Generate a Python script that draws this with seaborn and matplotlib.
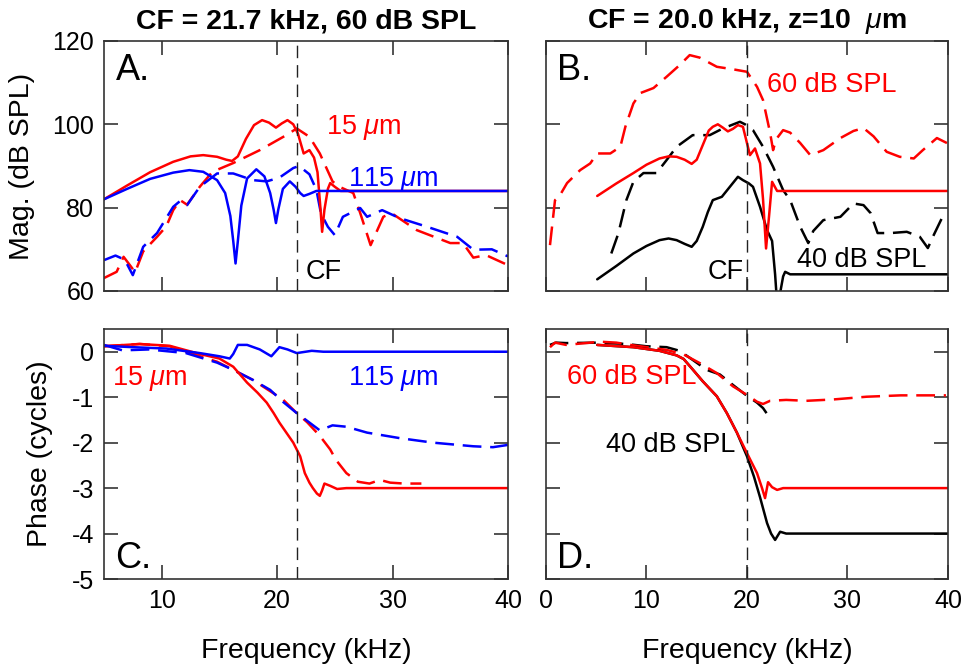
import numpy as np
import pandas as pd
import matplotlib
matplotlib.use("Agg")
import matplotlib.pyplot as plt
import seaborn as sns

# ---------------- data ----------------
# Panel A: CF = 21.7 kHz, 60 dB SPL, magnitude (dB SPL)
a_red_solid_f = [5, 7, 9, 11, 12.5, 13.6, 14.8, 15.6, 16.1, 16.6, 17.3, 18.0, 18.7, 19.3, 19.9, 20.4, 20.9, 21.4, 21.8, 22.3, 22.8, 23.2, 23.5, 23.75, 23.9, 24.1, 24.4, 24.6, 25.0, 25.5, 26.0, 40]
a_red_solid_v = [82, 85.3, 88.5, 91.0, 92.3, 92.6, 92.2, 91.5, 91.2, 92.3, 96.5, 99.8, 101.0, 100.4, 99.2, 100.2, 101.0, 100.0, 97.8, 93.0, 93.8, 92.0, 88.5, 80.0, 74.2, 79.5, 84.5, 85.9, 85.0, 84.0, 84.0, 84.0]

a_blue_solid_f = [5, 7, 9, 11, 12.4, 13.6, 14.8, 15.5, 15.95, 16.2, 16.4, 16.6, 16.9, 17.4, 18.2, 18.9, 19.4, 19.7, 19.9, 20.1, 20.5, 21.1, 21.6, 22.0, 22.3, 22.8, 23.4, 24.0, 40]
a_blue_solid_v = [82, 84.5, 86.9, 88.4, 89.0, 88.6, 86.6, 83.5, 78.0, 72.0, 66.6, 72.0, 80.5, 87.0, 89.2, 87.5, 83.5, 79.5, 76.3, 79.5, 84.5, 86.3, 85.0, 83.5, 82.8, 83.3, 84.0, 84.0, 84.0]

a_red_dash_f = [5, 6.1, 6.7, 7.3, 7.7, 8.4, 9.6, 10.4, 11.0, 11.6, 12.2, 13.3, 14.4, 16.2, 18.5, 20.8, 21.7, 22.8, 23.7, 24.8, 25.4, 26.6, 27.2, 28.1, 29.2, 29.9, 32.1, 35.0, 36.1, 37.0, 38.1, 40]
a_red_dash_v = [63.1, 64.6, 68.2, 66.0, 64.5, 69.5, 73.0, 75.5, 79.4, 81.8, 80.7, 85.0, 88.6, 90.7, 93.8, 97.4, 99.0, 97.0, 93.0, 86.3, 85.0, 83.5, 78.7, 71.0, 77.8, 78.7, 74.6, 71.5, 71.5, 68.0, 68.6, 66.2]

a_blue_dash_f = [5, 6.0, 6.8, 7.5, 8.4, 9.6, 11.0, 11.6, 12.2, 13.3, 14.8, 16.2, 17.9, 19.1, 20.2, 21.4, 21.9, 22.8, 23.4, 23.8, 24.4, 25.0, 25.7, 27.2, 27.8, 29.1, 30.6, 33.0, 35.6, 37.0, 38.6, 40]
a_blue_dash_v = [67.4, 68.5, 67.5, 63.8, 70.6, 73.9, 80.2, 81.6, 80.6, 85.0, 88.2, 88.2, 86.6, 86.3, 87.2, 89.5, 90.0, 88.0, 84.3, 78.6, 75.4, 73.4, 77.8, 79.9, 77.8, 79.4, 77.5, 75.4, 73.0, 69.9, 70.0, 68.3]

# Panel B: CF = 20.0 kHz, z = 10 um, magnitude (dB SPL)
b_red_dash_f = [0.4, 0.9, 1.3, 2.1, 3.4, 4.4, 5.1, 6.4, 7.4, 7.9, 8.7, 9.4, 10.7, 12.0, 13.3, 14.3, 15.3, 17.0, 18.6, 20.0, 21.0, 21.6, 22.3, 22.6, 22.9, 23.6, 24.3, 25.3, 26.3, 27.6, 29.3, 30.6, 31.6, 32.6, 33.9, 35.2, 36.6, 37.5, 38.9, 39.9]
b_red_dash_v = [71.0, 81.8, 82.6, 85.9, 89.0, 90.6, 93.0, 93.0, 94.6, 99.4, 105.0, 107.5, 108.7, 111.4, 114.2, 116.6, 116.0, 113.8, 113.2, 112.6, 109.0, 105.8, 98.0, 93.8, 96.4, 98.6, 98.0, 95.5, 92.6, 93.8, 96.7, 98.4, 99.1, 97.1, 93.4, 92.2, 91.8, 93.8, 96.7, 95.5]

b_red_solid_f = [5.1, 7.0, 8.7, 10.0, 11.3, 12.2, 13.0, 13.8, 14.5, 15.0, 15.6, 16.2, 16.6, 17.1, 17.6, 18.1, 18.6, 19.1, 19.6, 20.0, 20.3, 20.8, 21.3, 21.6, 21.9, 22.2, 22.5, 23.0, 23.5, 40]
b_red_solid_v = [82.8, 85.8, 88.3, 90.3, 91.8, 92.3, 92.2, 91.5, 90.5, 91.5, 95.0, 98.5, 99.4, 100.0, 99.2, 98.3, 98.9, 99.8, 99.4, 95.5, 92.6, 94.2, 90.6, 82.0, 70.2, 78.0, 86.2, 84.0, 84.0, 84.0]

b_black_solid_f = [5.1, 7.0, 8.7, 10.0, 11.3, 12.2, 13.0, 13.8, 14.5, 15.0, 15.6, 16.1, 16.6, 17.5, 18.3, 19.1, 19.6, 20.2, 20.6, 21.3, 22.0, 22.5, 22.8, 23.0, 23.3, 23.6, 23.8, 24.3, 40]
b_black_solid_v = [62.8, 66.0, 69.0, 70.8, 72.2, 72.6, 72.2, 71.3, 70.6, 72.0, 75.4, 78.9, 81.8, 82.6, 85.0, 87.4, 86.6, 85.8, 85.0, 80.2, 74.6, 72.0, 64.0, 57.0, 59.5, 63.5, 64.6, 64.0, 64.0]

b_black_dash_f = [6.5, 7.2, 8.0, 8.7, 9.7, 11.0, 12.0, 13.0, 14.6, 16.3, 17.6, 19.3, 19.8, 20.6, 21.6, 22.6, 23.6, 24.3, 25.3, 26.1, 26.6, 27.6, 29.3, 30.6, 31.6, 32.3, 33.0, 34.3, 35.9, 37.2, 38.0, 38.5, 39.4]
b_black_dash_v = [69.0, 73.8, 81.8, 86.2, 88.3, 88.3, 91.4, 94.6, 97.4, 97.4, 99.0, 100.6, 100.0, 98.6, 94.6, 89.8, 84.2, 81.8, 75.4, 71.5, 74.4, 77.0, 77.8, 81.0, 80.6, 78.7, 73.9, 73.9, 74.2, 73.0, 70.3, 73.0, 77.5]

# Panel C: phase (cycles), CF = 21.7 kHz
c_blue_solid_f = [5, 7.5, 10.4, 13.3, 15.0, 15.9, 16.2, 16.6, 17.4, 18.5, 19.5, 20.2, 20.9, 21.7, 23.0, 24.0, 40]
c_blue_solid_v = [0.13, 0.10, 0.07, -0.03, -0.10, -0.15, -0.05, 0.15, 0.15, 0.05, -0.10, 0.10, 0.05, -0.03, 0.02, 0.0, 0.0]

c_blue_dash_f = [5, 6.6, 8.9, 12.1, 14.8, 16.2, 17.9, 19.4, 20.5, 21.7, 22.6, 23.7, 24.8, 26.0, 27.8, 30.6, 33.5, 37.0, 38.7, 40]
c_blue_dash_v = [0.15, 0.03, 0.05, -0.03, -0.24, -0.40, -0.62, -0.84, -1.10, -1.35, -1.52, -1.73, -1.62, -1.65, -1.78, -1.90, -2.00, -2.08, -2.10, -2.05]

c_red_dash_f = [5, 8.1, 10.7, 12.1, 14.8, 17.9, 20.5, 21.7, 22.6, 23.7, 24.6, 25.1, 26.0, 27.0, 28.0, 28.9, 29.8, 31.0, 32.5]
c_red_dash_v = [0.12, 0.17, 0.12, 0.0, -0.22, -0.62, -1.05, -1.35, -1.55, -1.85, -2.15, -2.38, -2.67, -2.86, -2.90, -2.82, -2.88, -2.90, -2.90]

c_red_solid_f = [5, 8.1, 10.7, 13.3, 15.0, 16.2, 17.4, 18.3, 19.1, 19.7, 20.2, 20.8, 21.4, 22.0, 22.4, 22.8, 23.1, 23.45, 23.7, 23.9, 24.1, 24.6, 25.2, 26.0, 40]
c_red_solid_v = [0.12, 0.17, 0.13, -0.05, -0.15, -0.33, -0.68, -0.90, -1.12, -1.35, -1.56, -1.78, -2.00, -2.30, -2.67, -2.88, -3.00, -3.12, -3.17, -3.05, -2.90, -2.95, -3.02, -3.00, -3.00]

# Panel D: phase (cycles), CF = 20.0 kHz
d_red_dash_f = [0.4, 0.9, 2.0, 5.4, 7.0, 8.4, 12.0, 13.7, 15.3, 17.0, 18.6, 20.0, 21.0, 21.6, 22.3, 23.9, 25.9, 28.6, 31.9, 35.3, 39.8]
d_red_dash_v = [0.10, 0.20, 0.15, 0.22, 0.20, 0.15, 0.04, -0.06, -0.25, -0.47, -0.76, -0.95, -1.10, -1.15, -1.08, -1.06, -1.08, -1.05, -0.99, -0.96, -0.96]

d_black_dash_f = [0.4, 1.0, 2.0, 5.4, 8.0, 10.0, 12.0, 13.3, 14.6, 16.0, 17.3, 18.6, 20.0, 21.0, 21.6, 22.1]
d_black_dash_v = [0.15, 0.20, 0.19, 0.20, 0.17, 0.12, 0.10, 0.02, -0.18, -0.40, -0.50, -0.73, -0.97, -1.12, -1.24, -1.40]

d_red_solid_f = [5.1, 8.7, 11.3, 13.0, 13.7, 14.6, 15.6, 17.0, 18.0, 19.0, 20.0, 21.0, 21.5, 21.8, 22.1, 22.5, 23.0, 23.6, 40]
d_red_solid_v = [0.15, 0.10, 0.02, -0.08, -0.16, -0.39, -0.65, -0.98, -1.35, -1.78, -2.23, -2.67, -3.00, -3.22, -2.87, -2.98, -3.04, -3.00, -3.00]

d_black_solid_f = [5.1, 8.7, 11.3, 13.0, 13.7, 14.6, 15.6, 17.0, 18.0, 19.0, 20.0, 20.7, 21.3, 22.0, 22.4, 22.8, 23.3, 23.9, 40]
d_black_solid_v = [0.15, 0.10, 0.02, -0.08, -0.16, -0.39, -0.65, -0.98, -1.35, -1.78, -2.30, -2.75, -3.20, -3.77, -4.00, -4.14, -3.96, -4.00, -4.00]

cf_left = 21.7
cf_right = 20.0

# ---------------- style ----------------
sns.set_theme(style="ticks")
plt.rcParams["font.family"] = ["Liberation Sans", "DejaVu Sans"]
plt.rcParams["axes.unicode_minus"] = False
plt.rcParams["mathtext.fontset"] = "custom"
plt.rcParams["mathtext.it"] = "Liberation Sans:italic"
plt.rcParams["mathtext.rm"] = "Liberation Sans"
plt.rcParams["mathtext.bf"] = "Liberation Sans:bold"
plt.rcParams["text.color"] = "black"
plt.rcParams["axes.labelcolor"] = "black"
plt.rcParams["xtick.color"] = "#444444"
plt.rcParams["ytick.color"] = "#444444"
plt.rcParams["xtick.labelcolor"] = "black"
plt.rcParams["ytick.labelcolor"] = "black"

RED = "#ff0000"
BLUE = "#0000ff"
BLACK = "#000000"
LW = 1.8

fig = plt.figure(figsize=(9.67, 6.68), dpi=100)
axA = fig.add_axes([0.1075, 0.5644, 0.4178, 0.3743])
axB = fig.add_axes([0.5646, 0.5644, 0.4157, 0.3743])
axC = fig.add_axes([0.1075, 0.1332, 0.4178, 0.3743])
axD = fig.add_axes([0.5646, 0.1332, 0.4157, 0.3743])


def draw(ax, f, v, color, dashed):
    sns.lineplot(x=f, y=v, ax=ax, color=color, lw=LW, sort=False, estimator=None)
    line = ax.get_lines()[-1]
    if dashed:
        line.set_dashes((7.5, 3.5))


# Panel A
draw(axA, a_red_dash_f, a_red_dash_v, RED, True)
draw(axA, a_blue_dash_f, a_blue_dash_v, BLUE, True)
draw(axA, a_red_solid_f, a_red_solid_v, RED, False)
draw(axA, a_blue_solid_f, a_blue_solid_v, BLUE, False)

# Panel B
draw(axB, b_red_dash_f, b_red_dash_v, RED, True)
draw(axB, b_black_dash_f, b_black_dash_v, BLACK, True)
draw(axB, b_black_solid_f, b_black_solid_v, BLACK, False)
draw(axB, b_red_solid_f, b_red_solid_v, RED, False)

# Panel C
draw(axC, c_red_dash_f, c_red_dash_v, RED, True)
draw(axC, c_blue_dash_f, c_blue_dash_v, BLUE, True)
draw(axC, c_red_solid_f, c_red_solid_v, RED, False)
draw(axC, c_blue_solid_f, c_blue_solid_v, BLUE, False)

# Panel D
draw(axD, d_black_dash_f, d_black_dash_v, BLACK, True)
draw(axD, d_red_dash_f, d_red_dash_v, RED, True)
draw(axD, d_black_solid_f, d_black_solid_v, BLACK, False)
draw(axD, d_red_solid_f, d_red_solid_v, RED, False)

for ax in (axA, axC):
    ax.axvline(cf_left, color="#222222", lw=1.0, dashes=(9, 5))
    ax.set_xlim(5, 40)
    ax.set_xticks([10, 20, 30, 40])
for ax in (axB, axD):
    ax.axvline(cf_right, color="#222222", lw=1.0, dashes=(9, 5))
    ax.set_xlim(0, 40)
    ax.set_xticks([0, 10, 20, 30, 40])
for ax in (axA, axB):
    ax.set_ylim(60, 120)
    ax.set_yticks([60, 80, 100, 120])
    ax.tick_params(labelbottom=False)
for ax in (axC, axD):
    ax.set_ylim(-5, 0.5)
    ax.set_yticks([0, -1, -2, -3, -4, -5])
for ax in (axB, axD):
    ax.tick_params(labelleft=False)

for ax in (axA, axB, axC, axD):
    ax.tick_params(direction="in", length=10, width=1.3,
                   top=True, right=True, labelsize=18, pad=7)
    for s in ax.spines.values():
        s.set_linewidth(1.2)
        s.set_color("#333333")
    ax.set_xlabel("")
    ax.set_ylabel("")

LBL = 20.5
axA.set_ylabel("Mag. (dB SPL)", fontsize=LBL)
axC.set_ylabel("Phase (cycles)", fontsize=LBL)
axC.set_xlabel("Frequency (kHz)", fontsize=LBL)
axD.set_xlabel("Frequency (kHz)", fontsize=LBL)
axA.yaxis.set_label_coords(-0.17, 0.5)
axC.yaxis.set_label_coords(-0.125, 0.5)
axC.xaxis.set_label_coords(0.5, -0.235)
axD.xaxis.set_label_coords(0.5, -0.235)

axA.set_title("CF = 21.7 kHz, 60 dB SPL", fontsize=20.5, fontweight="bold", pad=9)
axB.set_title(r"CF = 20.0 kHz, z=10  $\mu$m", fontsize=20.5, fontweight="bold", pad=9)

TXT = 19.5
LET = 26
# annotations panel A
axA.text(6.0, 113, "A.", fontsize=LET, va="center", ha="left")
axA.text(24.2, 99.2, r"15 $\mu$m", color=RED, fontsize=TXT, va="center", ha="left")
axA.text(26.1, 86.8, r"115 $\mu$m", color=BLUE, fontsize=TXT, va="center", ha="left")
axA.text(22.5, 64.5, "CF", color=BLACK, fontsize=TXT, va="center", ha="left")
# panel B
axB.text(1.1, 113, "B.", fontsize=LET, va="center", ha="left")
axB.text(22.0, 109.4, "60 dB SPL", color=RED, fontsize=TXT, va="center", ha="left")
axB.text(25.0, 67.4, "40 dB SPL", color=BLACK, fontsize=TXT, va="center", ha="left")
axB.text(16.1, 64.6, "CF", color=BLACK, fontsize=TXT, va="center", ha="left")
# panel C
axC.text(6.0, -4.55, "C.", fontsize=LET, va="center", ha="left")
axC.text(5.7, -0.58, r"15 $\mu$m", color=RED, fontsize=TXT, va="center", ha="left")
axC.text(26.1, -0.58, r"115 $\mu$m", color=BLUE, fontsize=TXT, va="center", ha="left")
# panel D
axD.text(1.1, -4.55, "D.", fontsize=LET, va="center", ha="left")
axD.text(2.1, -0.55, "60 dB SPL", color=RED, fontsize=TXT, va="center", ha="left")
axD.text(6.0, -2.05, "40 dB SPL", color=BLACK, fontsize=TXT, va="center", ha="left")

fig.savefig("out.png", dpi=100)
